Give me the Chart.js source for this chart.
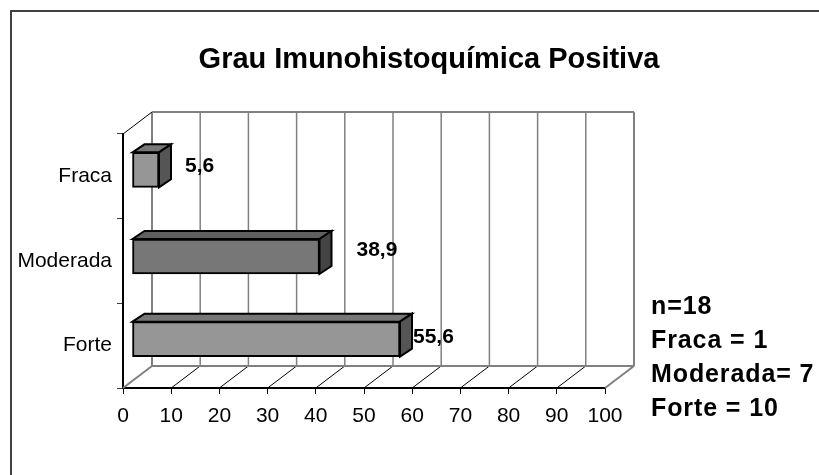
<!DOCTYPE html>
<html><head><meta charset="utf-8">
<style>html,body{margin:0;padding:0;background:#fff}#w{position:absolute;left:0;top:0;width:819px;height:475px}</style>
<script src="https://cdn.jsdelivr.net/npm/chart.js@4"></script>
</head><body><div id="w"><canvas id="c" width="819" height="475"></canvas></div>
<script>
const categories = ["Fraca", "Moderada", "Forte"];
const values = [5.6, 38.9, 55.6];
const valueLabels = ["5,6", "38,9", "55,6"];
const labelOffsets = [35, 46, 22];
const labelRise = [10, 13, 8];
const barNudge = [0, 2, 0];
const chartTitle = "Grau Imunohistoquímica Positiva";
const noteLines = ["n=18", "Fraca = 1", "Moderada= 7", "Forte = 10"];
const faceColors = ["#969696", "#777777", "#969696"];
const topColors = ["#777777", "#5f5f5f", "#777777"];
const sideColors = ["#555555", "#444444", "#555555"];
const FONT = '"Liberation Sans", Arial, sans-serif';
const depth = {x: 29, y: -22};
const barShift = {x: 9, y: -6.5};
const barDepth = {x: 12, y: -8};

const scene = {
  id: "scene",
  afterDatasetsUpdate(chart) {
    chart.getDatasetMeta(0).data.forEach((bar, i) => { bar.y += barNudge[i]; });
  },
  beforeDatasetsDraw(chart) {
    const {ctx, chartArea: a, scales: {x}} = chart;
    const line = (x1, y1, x2, y2, col, w) => {
      ctx.beginPath(); ctx.strokeStyle = col; ctx.lineWidth = w;
      ctx.moveTo(x1, y1); ctx.lineTo(x2, y2); ctx.stroke();
    };
    ctx.save();
    const gray = "#808080";
    x.ticks.forEach((t, i) => {
      const px = x.getPixelForValue(t.value);
      const edge = i === 0 || i === x.ticks.length - 1;
      line(px + depth.x, a.top + depth.y, px + depth.x, a.bottom + depth.y, gray, edge ? 2 : 1.5);
      if (i > 0 && i < x.ticks.length - 1) line(px, a.bottom, px + depth.x, a.bottom + depth.y, "#000", 1);
    });
    line(a.left + depth.x, a.top + depth.y, a.right + depth.x, a.top + depth.y, gray, 2);
    line(a.left + depth.x, a.bottom + depth.y, a.right + depth.x, a.bottom + depth.y, gray, 2);
    line(a.left, a.bottom, a.left + depth.x, a.bottom + depth.y, gray, 2);
    line(a.right, a.bottom, a.right + depth.x, a.bottom + depth.y, gray, 2);
    line(a.left, a.top, a.left + depth.x, a.top + depth.y, "#000", 1);
    ctx.restore();
  },
  beforeDatasetDraw(chart) {
    chart.ctx.save();
    chart.ctx.translate(barShift.x, barShift.y);
  },
  afterDatasetDraw(chart, args) {
    const {ctx} = chart;
    ctx.lineWidth = 2; ctx.strokeStyle = "#000"; ctx.lineJoin = "miter";
    args.meta.data.forEach((bar, i) => {
      const r = bar.x, t = bar.y - bar.height / 2, b = bar.y + bar.height / 2, l = bar.base;
      ctx.fillStyle = topColors[i];
      ctx.beginPath(); ctx.moveTo(l, t); ctx.lineTo(l + barDepth.x, t + barDepth.y);
      ctx.lineTo(r + barDepth.x, t + barDepth.y); ctx.lineTo(r, t); ctx.closePath(); ctx.fill(); ctx.stroke();
      ctx.fillStyle = sideColors[i];
      ctx.beginPath(); ctx.moveTo(r, t); ctx.lineTo(r + barDepth.x, t + barDepth.y);
      ctx.lineTo(r + barDepth.x, b + barDepth.y); ctx.lineTo(r, b); ctx.closePath(); ctx.fill(); ctx.stroke();
    });
    ctx.restore();
  },
  afterDraw(chart) {
    const {ctx, scales: {x}} = chart;
    ctx.save();
    ctx.strokeStyle = "#404040"; ctx.lineWidth = 2;
    ctx.beginPath(); ctx.moveTo(11, 475); ctx.lineTo(11, 11); ctx.lineTo(819, 11); ctx.stroke();
    ctx.fillStyle = "#000"; ctx.textBaseline = "middle";
    ctx.textAlign = "center"; ctx.font = "bold 29px " + FONT;
    ctx.fillText(chartTitle, 429, 60);
    ctx.textAlign = "left"; ctx.font = "bold 25px " + FONT;
    ctx.letterSpacing = "0.9px";
    noteLines.forEach((s, i) => ctx.fillText(s, 651, 307 + i * 34));
    ctx.letterSpacing = "0px";
    ctx.font = "bold 21px " + FONT;
    chart.getDatasetMeta(0).data.forEach((bar, i) => {
      ctx.fillText(valueLabels[i], x.getPixelForValue(values[i]) + labelOffsets[i], bar.y - labelRise[i]);
    });
    ctx.restore();
  }
};

new Chart(document.getElementById("c"), {
  type: "bar",
  plugins: [scene],
  data: {
    labels: categories,
    datasets: [{
      data: values,
      backgroundColor: faceColors,
      borderColor: "#000",
      borderWidth: 2,
      borderSkipped: false,
      barThickness: 35
    }]
  },
  options: {
    indexAxis: "y",
    responsive: false,
    animation: false,
    events: [],
    layout: {padding: {left: 0, top: 134, right: 214, bottom: 0}},
    plugins: {legend: {display: false}, tooltip: {enabled: false}, title: {display: false}},
    scales: {
      x: {
        min: 0, max: 100,
        afterFit(s) { s.height = 475 - 388; },
        grid: {drawOnChartArea: false, color: "#000", tickLength: 6, lineWidth: 1},
        border: {color: "#000", width: 2},
        ticks: {stepSize: 10, maxRotation: 0, autoSkip: false, color: "#000", padding: 10, font: {family: FONT, size: 21}}
      },
      y: {
        afterFit(s) { s.width = 123; },
        grid: {drawOnChartArea: false, color: "#404040", tickLength: 6, lineWidth: 1, offset: true},
        border: {color: "#000", width: 2},
        ticks: {color: "#000", padding: 5, font: {family: FONT, size: 21}}
      }
    }
  }
});
</script></body></html>
